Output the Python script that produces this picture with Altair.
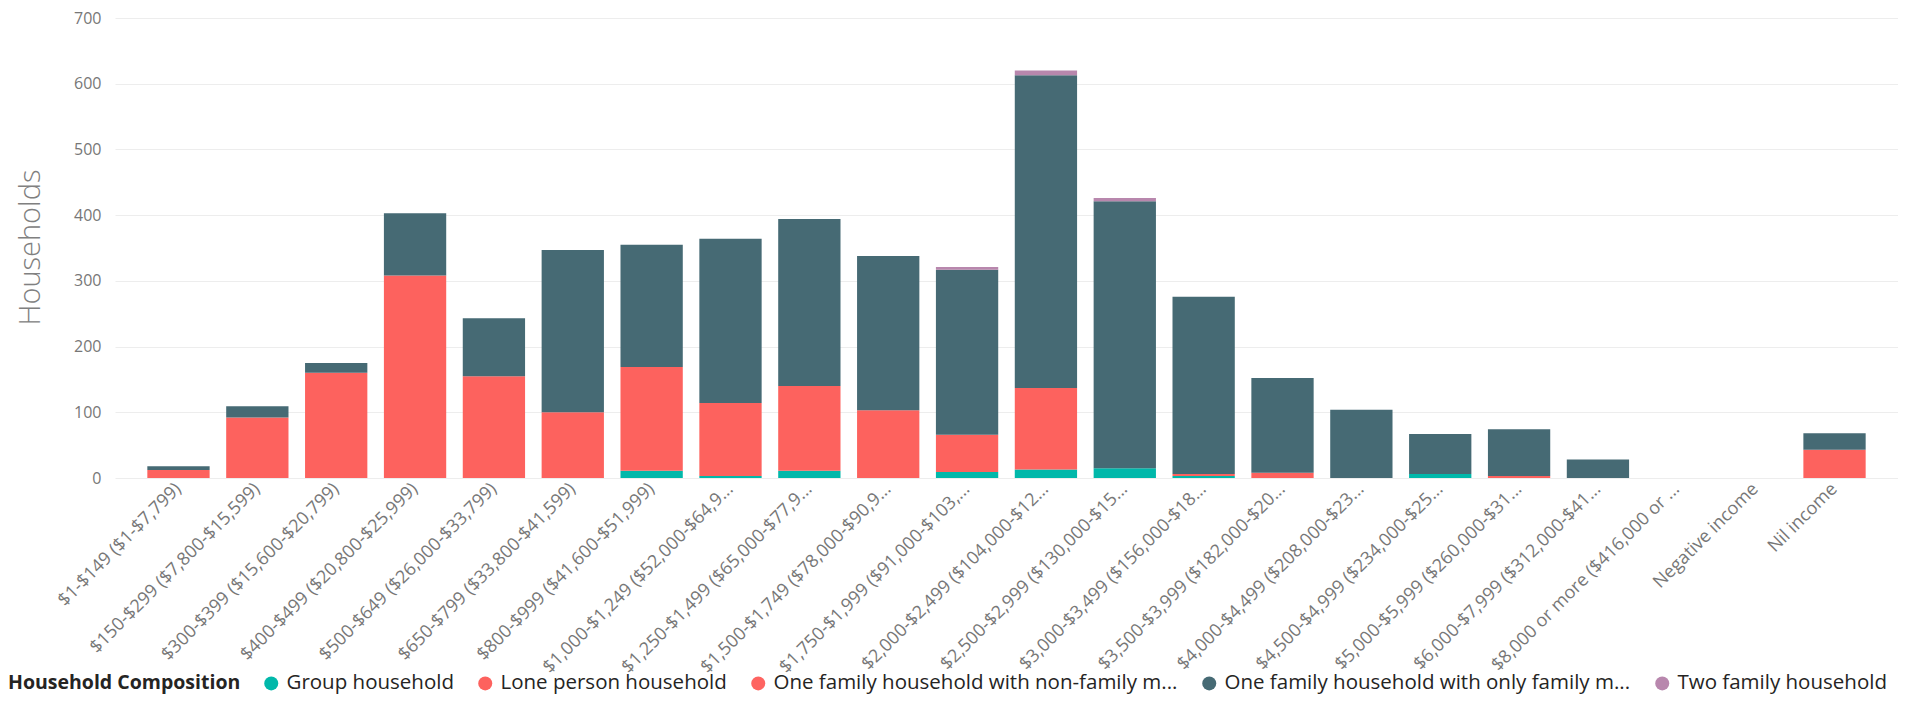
import altair as alt
import pandas as pd

categories = [
    "$1-$149 ($1-$7,799)",
    "$150-$299 ($7,800-$15,599)",
    "$300-$399 ($15,600-$20,799)",
    "$400-$499 ($20,800-$25,999)",
    "$500-$649 ($26,000-$33,799)",
    "$650-$799 ($33,800-$41,599)",
    "$800-$999 ($41,600-$51,999)",
    "$1,000-$1,249 ($52,000-$64,9...",
    "$1,250-$1,499 ($65,000-$77,9...",
    "$1,500-$1,749 ($78,000-$90,9...",
    "$1,750-$1,999 ($91,000-$103,...",
    "$2,000-$2,499 ($104,000-$12...",
    "$2,500-$2,999 ($130,000-$15...",
    "$3,000-$3,499 ($156,000-$18...",
    "$3,500-$3,999 ($182,000-$20...",
    "$4,000-$4,499 ($208,000-$23...",
    "$4,500-$4,999 ($234,000-$25...",
    "$5,000-$5,999 ($260,000-$31...",
    "$6,000-$7,999 ($312,000-$41...",
    "$8,000 or more ($416,000 or ...",
    "Negative income",
    "Nil income",
]

compositions = [
    "Group household",
    "Lone person household",
    "One family household with non-family m...",
    "One family household with only family m...",
    "Two family household",
]
colors = ["#01B8AA", "#FD625E", "#FE6461", "#466A74", "#B887AD"]

group_household = [0, 0, 0, 0, 0, 0, 11, 3, 11, 0, 9, 13, 15, 3, 0, 0, 6, 0, 0, 0, 0, 0]
lone_person = [12, 92, 160, 308, 155, 100, 158, 111, 129, 103, 57, 124, 0, 3, 8, 0, 0, 3, 0, 0, 0, 43]
non_family = [0] * 22
only_family = [6, 17, 15, 95, 88, 247, 186, 250, 254, 235, 251, 476, 406, 270, 144, 104, 61, 71, 28, 0, 0, 25]
two_family = [0, 0, 0, 0, 0, 0, 0, 0, 0, 0, 4, 7, 5, 0, 0, 0, 0, 0, 0, 0, 0, 0]

series = [group_household, lone_person, non_family, only_family, two_family]

rows = []
for i, cat in enumerate(categories):
    for k, comp in enumerate(compositions):
        rows.append({"income": cat, "comp": comp, "households": series[k][i], "order": k})
df = pd.DataFrame(rows)

FONT = "Open Sans"

chart = alt.Chart(df).mark_bar().encode(
    x=alt.X(
        "income:N",
        sort=categories,
        scale=alt.Scale(paddingInner=0.21, paddingOuter=0.41),
        axis=alt.Axis(
            title=None,
            labelAngle=-45,
            labelAlign="right",
            labelBaseline="middle",
            labelFontSize=18,
            labelFont=FONT,
            labelColor="#777777",
            labelPadding=8,
            labelLimit=500,
            domain=False,
            ticks=False,
            grid=False,
        ),
    ),
    y=alt.Y(
        "households:Q",
        stack="zero",
        scale=alt.Scale(domain=[0, 700], nice=False),
        axis=alt.Axis(
            values=[0, 100, 200, 300, 400, 500, 600, 700],
            title="Households",
            titleFont=FONT,
            titleFontSize=29,
            titleFontWeight=300,
            titleColor="#808080",
            titleX=-76,
            titleY=229,
            titleAlign="center",
            titleBaseline="alphabetic",
            titleAngle=-90,
            labelFont=FONT,
            labelFontSize=16,
            labelColor="#777777",
            labelPadding=14,
            domain=False,
            ticks=False,
            grid=True,
            gridColor="#EDEDED",
            gridWidth=1.2,
        ),
    ),
    color=alt.Color(
        "comp:N",
        scale=alt.Scale(domain=compositions, range=colors),
        legend=alt.Legend(
            title="Household Composition",
            orient="none",
            legendX=-107,
            legendY=655,
            direction="horizontal",
            titleOrient="left",
            titleFont=FONT,
            titleFontSize=19.5,
            titleFontWeight="bold",
            titleColor="#252423",
            titlePadding=20,
            titleLimit=600,
            labelFont=FONT,
            labelFontSize=20.5,
            labelColor="#252423",
            labelLimit=600,
            labelOffset=5,
            columnPadding=21,
            symbolType="circle",
            symbolSize=196,
            symbolStrokeWidth=0,
            symbolOpacity=1,
        ),
    ),
    order=alt.Order("order:Q"),
).properties(
    width=1783,
    height=460,
    autosize=alt.AutoSizeParams(type="none"),
    padding={"left": 107, "top": 10, "right": 0, "bottom": 216},
).configure_view(stroke=None)

chart.save("out.html", embed_options={"renderer": "svg", "actions": False})
